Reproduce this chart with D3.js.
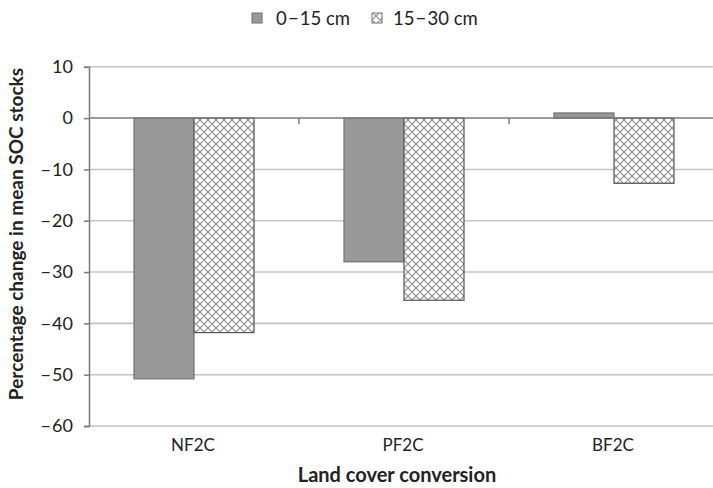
<!DOCTYPE html>
<html><head><meta charset="utf-8">
<script src="https://cdn.jsdelivr.net/npm/d3@7"></script>
<style>
html,body{margin:0;padding:0;background:#fff;}
svg{display:block;font-family:Lato,"Open Sans",sans-serif;}
</style></head>
<body>
<svg id="chart" width="713" height="488"></svg>
<script>
const categories = ["NF2C", "PF2C", "BF2C"];
const seriesNames = ["0\u200A\u2212\u200A15 cm", "15\u200A\u2212\u200A30 cm"];
const shallow = [-50.8, -28.0, 1.0];
const deep = [-41.8, -35.5, -12.7];
const yTicks = [10, 0, -10, -20, -30, -40, -50, -60];
const yTitle = "Percentage change in mean SOC stocks";
const xTitle = "Land cover conversion";

const svg = d3.select("#chart");
const defs = svg.append("defs");
const pat = defs.append("pattern").attr("id","hatch").attr("patternUnits","userSpaceOnUse")
  .attr("width",8).attr("height",8);
pat.append("rect").attr("width",8).attr("height",8).attr("fill","#fff");
pat.append("path").attr("d","M0,0 L8,8 M8,0 L0,8 M-1,7 L1,9 M7,-1 L9,1 M-1,1 L1,-1 M7,9 L9,7")
  .attr("stroke","#8a8a8a").attr("stroke-width",1.1);

const left = 89, right = 719;
const y = d3.scaleLinear().domain([-60, 10]).range([426, 66.8]);
const x = d3.scaleBand().domain(categories).range([left, right]).paddingInner(0).paddingOuter(0);
const inner = d3.scaleBand().domain([0,1]).range([45, x.bandwidth()-45]).paddingInner(0).paddingOuter(0);

// gridlines
svg.append("g").selectAll("line").data(yTicks.filter(d=>d!==0)).join("line")
  .attr("x1", left).attr("x2", 713).attr("y1", d=>y(d)).attr("y2", d=>y(d))
  .attr("stroke","#c4c4c4").attr("stroke-width",1.6);

// bars
const data = [];
categories.forEach((c,i)=>{
  data.push({c, s:0, v:shallow[i]});
  data.push({c, s:1, v:deep[i]});
});
svg.append("g").selectAll("rect").data(data).join("rect")
  .attr("x", d=>x(d.c)+inner(d.s))
  .attr("width", inner.bandwidth())
  .attr("y", d=>Math.min(y(d.v), y(0)))
  .attr("height", d=>Math.abs(y(d.v)-y(0)))
  .attr("fill", d=>d.s===0 ? "#999999" : "url(#hatch)")
  .attr("stroke", d=>d.s===0 ? "#6f6f6f" : "#555555")
  .attr("stroke-width", 1.2);

// zero axis line
svg.append("line").attr("x1", left).attr("x2", 713).attr("y1", y(0)).attr("y2", y(0))
  .attr("stroke","#7a7a7a").attr("stroke-width",1.5);
// category ticks (down)
svg.append("g").selectAll("line").data(categories.slice(1)).join("line")
  .attr("x1", d=>x(d)).attr("x2", d=>x(d)).attr("y1", y(0)).attr("y2", y(0)+6)
  .attr("stroke","#7a7a7a").attr("stroke-width",1.5);

// y axis
const yAxis = d3.axisLeft(y).tickValues(yTicks).tickSize(5).tickPadding(11)
  .tickFormat(d=> d<0 ? "\u2212\u200A" + Math.abs(d) : String(d));
const ga = svg.append("g").attr("transform",`translate(${left},0)`).call(yAxis);
ga.select(".domain").attr("stroke","#7a7a7a").attr("stroke-width",1.5);
ga.selectAll(".tick line").attr("stroke","#7a7a7a").attr("stroke-width",1.5);
ga.selectAll(".tick text").attr("font-size",18).attr("fill","#222").attr("font-family","Lato,sans-serif");

// x category labels
svg.append("g").selectAll("text").data(categories).join("text")
  .attr("x", d=>x(d)+x.bandwidth()/2 - 1).attr("y", 451)
  .attr("text-anchor","middle").attr("font-size",17).attr("fill","#222")
  .text(d=>d);

// axis titles
svg.append("text").attr("x", 397).attr("y", 482).attr("text-anchor","middle")
  .attr("font-size",20).attr("font-weight","bold").attr("fill","#222").text(xTitle);
svg.append("text").attr("transform","translate(23,234) rotate(-90)").attr("text-anchor","middle")
  .attr("font-size",19).attr("font-weight","bold").attr("fill","#222").text(yTitle);

// legend
const legX = [252, 372];
const lg = svg.append("g");
seriesNames.forEach((n,i)=>{
  lg.append("rect").attr("x", legX[i]).attr("y", 13).attr("width", 10).attr("height", 10)
    .attr("fill", i===0 ? "#999999" : "url(#hatch)")
    .attr("stroke", i===0 ? "#6f6f6f" : "#777").attr("stroke-width",1);
  lg.append("text").attr("x", legX[i]+ (i===0?24:21)).attr("y", 25)
    .attr("font-size",18.5).attr("fill","#222").text(n);
});
</script>
</body></html>
